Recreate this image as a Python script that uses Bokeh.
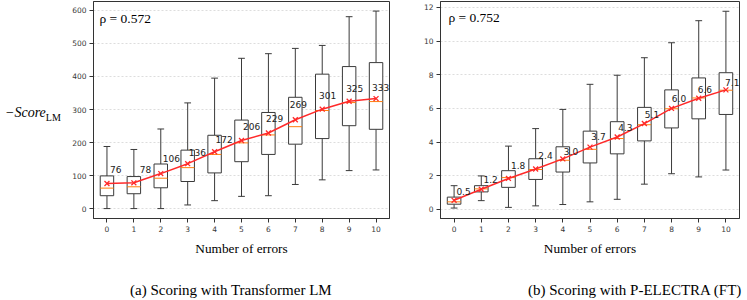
from bokeh.plotting import figure
from bokeh.models import ColumnDataSource, FixedTicker, Label, Range1d, Div
from bokeh.layouts import row, column
from bokeh.transform import dodge
from bokeh.core.properties import value
from bokeh.embed import file_html
from bokeh.resources import INLINE

errors = list(range(11))

# (a) Transformer LM scores
lm_low = [0, 0, 0, 11, 24, 37, 39, 73, 87, 115, 117]
lm_q1 = [39, 45, 63, 82, 108, 142, 164, 195, 212, 251, 240]
lm_med = [62, 66, 92, 124, 164, 199, 223, 248, 297, 321, 324]
lm_q3 = [99, 97, 135, 177, 222, 268, 291, 337, 407, 430, 442]
lm_high = [188, 179, 241, 320, 395, 455, 469, 485, 494, 581, 598]
lm_mean = [76, 78, 106, 136, 172, 206, 229, 269, 301, 325, 333]
lm_rho = "ρ = 0.572"
lm_yticks = [0, 100, 200, 300, 400, 500, 600]

# (b) P-ELECTRA (FT) scores
el_low = [0.08, 0.52, 0.12, 0.21, 0.29, 0.45, 0.60, 1.50, 2.12, 1.93, 2.34]
el_q1 = [0.31, 1.04, 1.31, 1.78, 2.22, 2.76, 3.30, 4.07, 4.84, 5.38, 5.64]
el_med = [0.45, 1.22, 1.89, 2.37, 2.92, 3.57, 4.21, 5.03, 5.98, 6.62, 7.08]
el_q3 = [0.73, 1.41, 2.30, 3.01, 3.72, 4.65, 5.21, 6.06, 7.10, 7.81, 8.12]
el_high = [1.41, 1.99, 3.76, 4.80, 5.94, 7.43, 7.97, 9.01, 9.90, 11.21, 11.77]
el_mean = [0.54, 1.2, 1.84, 2.4, 3.0, 3.7, 4.3, 5.1, 6.0, 6.6, 7.1]
el_rho = "ρ = 0.752"
el_yticks = [0, 2, 4, 6, 8, 10, 12]

x_title = "Number of errors"
cap_a = "(a) Scoring with Transformer LM"
cap_b = "(b) Scoring with P-ELECTRA (FT)"

# styling: pixel nudges of the mean-value labels (screen px, not data)
lm_lab_dx = [3, 6, 2, 1, 1, 1.5, -2.3, -5.5, -3.2, -3, -4]
lm_lab_dy = [-14, -13, -15, -11, -12, -14, -14.5, -15, -13.5, -13, -11]
el_lab_dx = [2.3, 2.2, 2.5, 2.7, 1, 1.3, 1, 0.5, 0.3, -1, -0.8]
el_lab_dy = [-9, -9.3, -13, -14, -7, -10.5, -9.4, -9, -10, -8.6, -7.7]

EDGE = "#3a3a3a"
SERIF = "Liberation Serif"


def panel(width, bl, br, yr, yticks, low, q1, med, q3, high, mean, labels, ldx, ldy,
          rho, rho_x, rho_y):
    src = ColumnDataSource(dict(x=errors, low=low, q1=q1, med=med, q3=q3,
                                high=high, mean=mean, lab=labels, dx=ldx, dy=ldy))
    p = figure(width=width, height=258, x_range=Range1d(-0.5, 10.5),
               y_range=Range1d(*yr), output_backend="svg", toolbar_location=None,
               min_border_left=bl, min_border_right=br, min_border_top=1,
               min_border_bottom=38)
    p.background_fill_color = "white"
    p.border_fill_color = "white"
    p.outline_line_color = "#333333"
    p.outline_line_width = 1
    p.xgrid.visible = False
    p.ygrid.grid_line_color = "#d4d4d4"
    p.ygrid.grid_line_dash = "2 2"
    p.ygrid.grid_line_width = 0.8
    p.xaxis.ticker = FixedTicker(ticks=errors)
    p.yaxis.ticker = FixedTicker(ticks=yticks)
    for ax in (p.xaxis, p.yaxis):
        ax.major_tick_out = 4
        ax.major_tick_in = 0
        ax.minor_tick_out = 0
        ax.minor_tick_in = 0
        ax.major_label_text_font = "DejaVu Sans"
        ax.major_label_text_font_size = "7.5px"
        ax.major_label_text_color = "#383838"
        ax.axis_line_color = "#333333"
        ax.major_tick_line_color = "#333333"
        ax.major_label_standoff = 3
    p.xaxis.axis_label = x_title
    p.xaxis.axis_label_text_font = SERIF
    p.xaxis.axis_label_text_font_size = "13.3px"
    p.xaxis.axis_label_text_font_style = "normal"
    p.xaxis.axis_label_text_color = "black"
    p.xaxis.axis_label_standoff = 6

    # whiskers
    p.segment(x0="x", y0="q3", x1="x", y1="high", source=src, line_color=EDGE, line_width=1)
    p.segment(x0="x", y0="q1", x1="x", y1="low", source=src, line_color=EDGE, line_width=1)
    # caps
    p.segment(x0=dodge("x", -0.125), y0="high", x1=dodge("x", 0.125), y1="high",
              source=src, line_color=EDGE, line_width=1)
    p.segment(x0=dodge("x", -0.125), y0="low", x1=dodge("x", 0.125), y1="low",
              source=src, line_color=EDGE, line_width=1)
    # boxes
    p.vbar(x="x", width=0.5, bottom="q1", top="q3", source=src,
           fill_color="white", line_color=EDGE, line_width=1)
    # medians
    p.segment(x0=dodge("x", -0.25), y0="med", x1=dodge("x", 0.25), y1="med",
              source=src, line_color="#ff7f0e", line_width=1)
    # means
    p.line("x", "mean", source=src, line_color="#ff2a2a", line_width=1.5)
    p.scatter("x", "mean", source=src, marker="x", size=7, line_color="#ff2a2a", line_width=1.3)
    p.text("x", "mean", text="lab", source=src, x_offset="dx", y_offset="dy",
           text_baseline="middle", text_align="left", text_font=value("DejaVu Sans"),
           text_font_size="9px", text_color="#222222")
    p.add_layout(Label(x=rho_x, y=rho_y, text=rho, text_font=SERIF, text_font_size="13.5px",
                       text_baseline="middle", text_align="left", text_color="black"))
    return p


p1 = panel(336, 22, 16, (-30, 627), lm_yticks, lm_low, lm_q1, lm_med, lm_q3, lm_high,
           lm_mean, [str(v) for v in lm_mean], lm_lab_dx, lm_lab_dy, lm_rho, -0.28, 576)
p2 = panel(336, 35, 2, (-0.54, 12.35), el_yticks, el_low, el_q1, el_med, el_q3, el_high,
           el_mean, [f"{v:.1f}" for v in el_mean], el_lab_dx, el_lab_dy, el_rho, -0.21, 11.37)

ylab = Div(width=59, height=258, text=(
    "<div style=\"margin-top:100px;font-family:'Liberation Serif';font-size:14px;"
    "line-height:16px;white-space:nowrap;color:black\">"
    "<i>−Score</i><sub style=\"font-size:10px;font-style:normal\">LM</sub></div>"))

capa = Div(width=395, height=26, text=(
    "<div style=\"margin-top:9px;padding-left:125px;font-family:'Liberation Serif';"
    "font-size:15px;line-height:17px;white-space:nowrap;color:black\">" + cap_a + "</div>"))
capb = Div(width=336, height=26, text=(
    "<div style=\"margin-top:9px;padding-left:118px;font-family:'Liberation Serif';"
    "font-size:15px;line-height:17px;white-space:nowrap;color:black\">" + cap_b + "</div>"))

layout = column(row(ylab, p1, p2), row(capa, capb))
open("out.html", "w").write(file_html(layout, INLINE))
